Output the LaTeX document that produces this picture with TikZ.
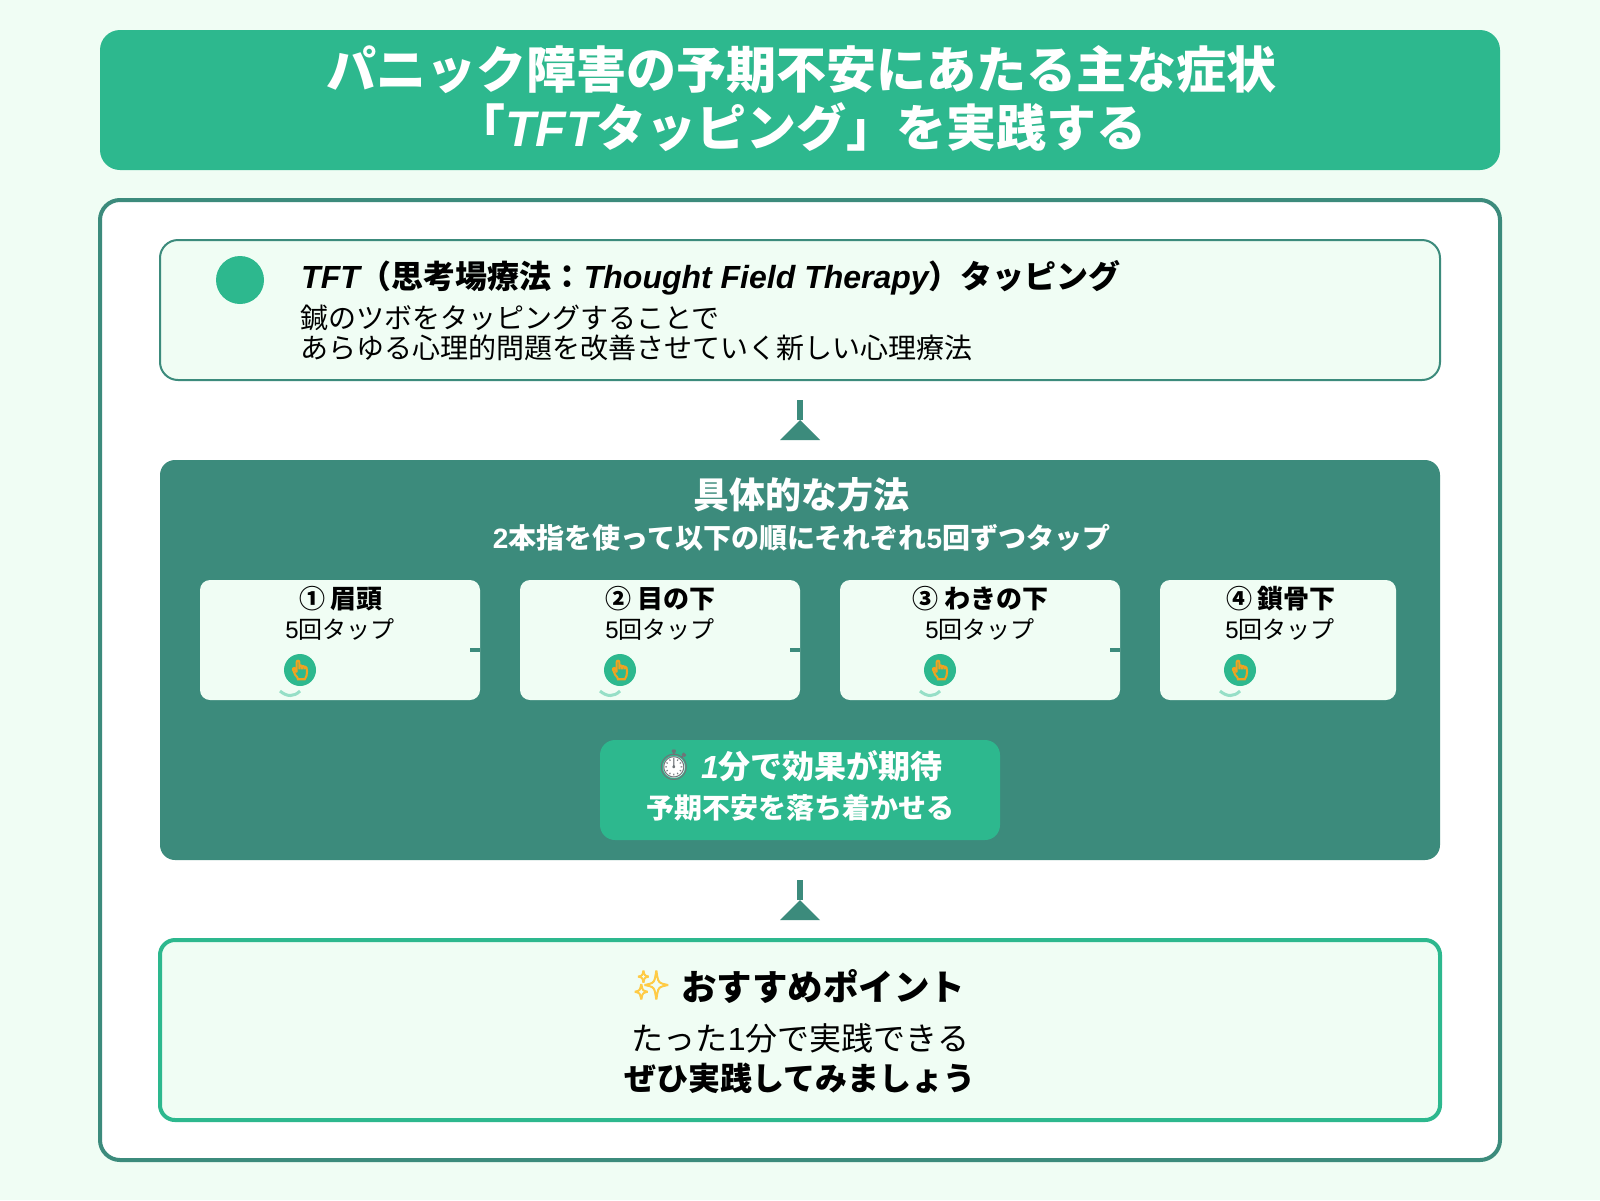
\documentclass[tikz,border=0pt]{standalone}
\usepackage{fontspec}
\setmainfont{Noto Sans CJK JP}
\newfontfamily\latinfont{Liberation Sans}
\newfontfamily\emojifont[FakeBold=3]{Noto Emoji}
\newfontfamily\handfont[FakeBold=7]{Noto Emoji}
\newfontfamily\watchfont{Noto Emoji}
\newcommand{\fsize}[1]{\fontsize{#1}{#1}\selectfont}
\newcommand{\tftit}[1]{{\latinfont\bfseries\itshape #1}}
\newcommand{\digit}[1]{{\latinfont #1}}
\newcommand{\handmark}{{\fsize{19}\handfont\color{handcol}👆}}
\newcommand{\stepgap}{\hspace{6pt}}
\definecolor{pagebg}{HTML}{F0FDF4}
\definecolor{leaf}{HTML}{2DB88E}
\definecolor{deep}{HTML}{3C8B7C}
\definecolor{wave}{HTML}{96DFC7}
\definecolor{handcol}{HTML}{F2A21F}
\definecolor{watchcol}{HTML}{6E7478}
\definecolor{sparkcol}{HTML}{FFCB45}
\tikzset{
	plate/.style={rounded corners=#1},
	plate/.default=20pt,
	label/.style={inner sep=0pt,anchor=base},
	stepbox/.style={fill=pagebg,rounded corners=10pt},
	tapdot/.style={circle,fill=leaf,inner sep=0pt,minimum size=32pt},
	tapwave/.style={wave,line width=3pt},
	stepdash/.style={deep,line width=4pt},
	flowstem/.style={deep,line width=6pt},
	flowhead/.style={fill=deep},
}

\begin{document}
\begin{tikzpicture}[x=1pt,y=-1pt]
	\useasboundingbox[fill=pagebg] (0,0) rectangle (1600,1200);
	% title
	\fill[plate,leaf] (100,30) rectangle (1500,170);
	\node[label,text=white] (titlea) at (801,88) {\fsize{50}\bfseries パニック障害の予期不安にあたる主な症状};
	\node[label,text=white] (titleb) at (801,146) {\fsize{50}\bfseries 「\tftit{TFT}タッピング」を実践する};
	% frame
	\draw[plate,fill=white,draw=deep,line width=4pt] (100,200) rectangle (1500,1160);
	% info box
	\draw[plate=18pt,fill=pagebg,draw=deep,line width=2pt] (160,240) rectangle (1440,380);
	\node[circle,fill=leaf,inner sep=0pt,minimum size=48pt] (infodot) at (240,280) {};
	\node[label,anchor=base west] (infohead) at (301,288) {\fsize{32}\bfseries \tftit{TFT}（思考場療法：\tftit{Thought Field Therapy}）タッピング};
	\node[label,anchor=base west] (infoa) at (300,328) {\fsize{28}鍼のツボをタッピングすることで};
	\node[label,anchor=base west] (infob) at (300,358) {\fsize{28}あらゆる心理的問題を改善させていく新しい心理療法};
	% first arrow
	\coordinate (arrowa) at (800,420);
	\draw[flowstem] (800,400) -- (arrowa);
	\fill[flowhead] (arrowa) -- (820,440) -- (780,440) -- cycle;
	% method panel
	\fill[plate=15pt,deep] (160,460) rectangle (1440,860);
	\node[label,text=white] (methodhead) at (801,508) {\fsize{36}\bfseries 具体的な方法};
	\node[label,text=white] (methodsub) at (801.5,548) {\fsize{28}\bfseries {\latinfont 2}本指を使って以下の順にそれぞれ{\latinfont 5}回ずつタップ};
	% step 1
	\fill[stepbox] (200,580) rectangle (480,700);
	\node[label] (stepa) at (341,608) {\fsize{26}\bfseries ①\stepgap 眉頭};
	\node[label] (counta) at (340,638) {\fsize{24}\digit{5}回タップ};
	\node[tapdot] (dota) at (300,670) {\handmark};
	\draw[tapwave] (280,691) .. controls (287,697) and (294,697) .. (300,691);
	\draw[stepdash] (470,650) -- (480,650);
	% step 2
	\fill[stepbox] (520,580) rectangle (800,700);
	\node[label] (stepb) at (660.5,608) {\fsize{26}\bfseries ②\stepgap 目の下};
	\node[label] (countb) at (660,638) {\fsize{24}\digit{5}回タップ};
	\node[tapdot] (dotb) at (620,670) {\handmark};
	\draw[tapwave] (600,691) .. controls (607,697) and (614,697) .. (620,691);
	\draw[stepdash] (790,650) -- (800,650);
	% step 3
	\fill[stepbox] (840,580) rectangle (1120,700);
	\node[label] (stepc) at (980.5,608) {\fsize{26}\bfseries ③\stepgap わきの下};
	\node[label] (countc) at (980,638) {\fsize{24}\digit{5}回タップ};
	\node[tapdot] (dotc) at (940,670) {\handmark};
	\draw[tapwave] (920,691) .. controls (927,697) and (934,697) .. (940,691);
	\draw[stepdash] (1110,650) -- (1120,650);
	% step 4
	\fill[stepbox] (1160,580) rectangle (1396,700);
	\node[label] (stepd) at (1281,608) {\fsize{26}\bfseries ④\stepgap 鎖骨下};
	\node[label] (countd) at (1280,638) {\fsize{24}\digit{5}回タップ};
	\node[tapdot] (dotd) at (1240,670) {\handmark};
	\draw[tapwave] (1220,691) .. controls (1227,697) and (1234,697) .. (1240,691);
	% effect box
	\fill[plate=15pt,leaf] (600,740) rectangle (1000,840);
	\fill[white] (674,767) circle (11pt);
	\node[inner sep=0pt] (watch) at (674,765) {\fsize{30}\watchfont\color{watchcol}⏱};
	\node[label,text=white] (effecta) at (822,778) {\fsize{32}\bfseries \tftit{1}分で効果が期待};
	\node[label,text=white] (effectb) at (800,818) {\fsize{28}\bfseries 予期不安を落ち着かせる};
	% second arrow
	\coordinate (arrowb) at (800,900);
	\draw[flowstem] (800,880) -- (arrowb);
	\fill[flowhead] (arrowb) -- (820,920) -- (780,920) -- cycle;
	% recommendation
	\draw[plate=15pt,fill=pagebg,draw=leaf,line width=4pt] (160,940) rectangle (1440,1120);
	\node[inner sep=0pt] (spark) at (651.5,985) {\fsize{28}\emojifont\color{sparkcol}✨};
	\node[label] (pointhead) at (823,1000) {\fsize{35.5}\bfseries おすすめポイント};
	\node[label] (pointa) at (800.5,1050) {\fsize{32}たった\digit{1}分で実践できる};
	\node[label] (pointb) at (800,1090) {\fsize{32}\bfseries ぜひ実践してみましょう};
\end{tikzpicture}
\end{document}
